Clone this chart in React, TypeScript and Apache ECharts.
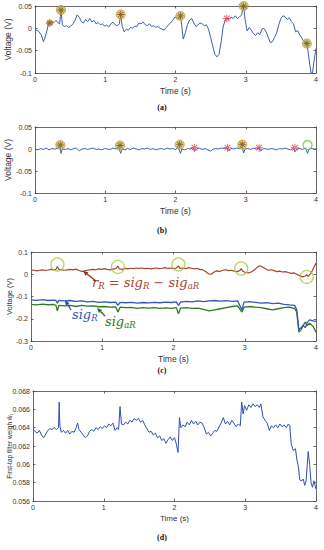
import React, { useEffect, useRef } from "react";
import * as echarts from "echarts";

// ---------------- DATA ----------------
const xTicks = [0, 1, 2, 3, 4];

// (a) raw signal [time, voltage]
const sigA: number[][] = [
  [0.00,-0.006],[0.03,-0.004],[0.06,-0.008],[0.09,-0.015],[0.12,-0.030],[0.14,-0.022],[0.17,-0.005],[0.19,0.008],
  [0.21,0.012],[0.24,0.015],[0.27,0.013],[0.30,0.018],[0.33,0.012],[0.35,0.010],[0.37,0.041],[0.39,0.008],
  [0.42,0.004],[0.45,0.006],[0.48,0.002],[0.51,0.005],[0.54,0.010],[0.57,0.018],[0.60,0.030],[0.63,0.025],
  [0.66,0.015],[0.69,0.012],[0.72,0.020],[0.75,0.015],[0.78,0.022],[0.81,0.014],[0.84,0.018],[0.87,0.010],
  [0.90,0.013],[0.93,0.008],[0.96,0.010],[0.99,0.005],[1.02,0.007],[1.05,0.003],[1.08,0.010],[1.11,0.014],
  [1.14,0.008],[1.17,0.006],[1.20,0.010],[1.22,0.031],[1.24,0.005],[1.27,-0.008],[1.30,-0.002],[1.33,-0.004],
  [1.36,0.002],[1.39,0.000],[1.42,0.005],[1.45,0.004],[1.48,0.012],[1.51,0.010],[1.54,0.014],[1.57,0.008],
  [1.60,0.006],[1.63,0.010],[1.66,0.004],[1.69,0.006],[1.72,0.002],[1.75,0.004],[1.78,0.000],[1.81,-0.002],
  [1.84,-0.004],[1.87,0.002],[1.90,0.008],[1.93,0.012],[1.96,0.018],[1.99,0.025],[2.02,0.022],[2.05,0.020],
  [2.07,0.028],[2.09,0.005],[2.11,-0.024],[2.14,-0.010],[2.17,0.008],[2.20,0.018],[2.23,0.022],[2.26,0.012],
  [2.29,0.004],[2.32,0.008],[2.35,0.012],[2.38,0.010],[2.41,0.006],[2.44,0.008],[2.47,-0.002],[2.50,-0.020],
  [2.53,-0.040],[2.56,-0.058],[2.59,-0.064],[2.62,-0.058],[2.65,-0.030],[2.68,0.005],[2.71,0.018],[2.73,0.022],
  [2.76,0.020],[2.79,0.025],[2.82,0.022],[2.85,0.028],[2.88,0.022],[2.91,0.025],[2.94,0.030],[2.97,0.050],
  [2.99,0.020],[3.02,-0.006],[3.05,0.002],[3.08,-0.004],[3.11,-0.012],[3.14,-0.016],[3.17,-0.010],[3.20,-0.014],
  [3.23,-0.002],[3.26,0.000],[3.29,-0.008],[3.32,-0.020],[3.35,-0.032],[3.38,-0.030],[3.41,-0.020],[3.44,-0.010],
  [3.47,0.008],[3.50,0.022],[3.53,0.028],[3.56,0.026],[3.59,0.020],[3.62,0.024],[3.65,0.015],[3.68,0.010],
  [3.71,-0.008],[3.74,-0.005],[3.77,-0.015],[3.80,-0.022],[3.83,-0.030],[3.87,-0.034],[3.89,-0.055],[3.91,-0.080],
  [3.93,-0.100],[3.95,-0.100],[3.97,-0.075],[4.00,-0.045],
];
const tpA: number[][] = [[0.37,0.041],[1.22,0.031],[2.07,0.028],[2.97,0.050],[3.87,-0.034]];
const tpSmallA: number[][] = [[0.21,0.012]];
const fpA: number[][] = [[2.73,0.022]];

// (b) residual signal
const sigB: number[][] = [
  [0.00,0.000],[0.04,-0.002],[0.08,0.001],[0.12,-0.001],[0.16,0.002],[0.20,-0.002],[0.24,0.001],[0.28,0.000],
  [0.32,0.001],[0.36,0.004],[0.37,-0.010],[0.39,0.000],[0.43,-0.001],[0.47,0.001],[0.51,-0.002],[0.55,0.001],
  [0.59,0.002],[0.63,-0.004],[0.67,0.000],[0.71,0.001],[0.75,-0.001],[0.79,0.001],[0.83,0.002],[0.87,-0.001],
  [0.91,0.000],[0.95,-0.002],[0.99,0.001],[1.03,0.000],[1.07,-0.001],[1.11,0.002],[1.15,0.000],[1.19,0.003],
  [1.22,-0.010],[1.24,0.000],[1.28,-0.002],[1.32,0.001],[1.36,-0.001],[1.40,0.002],[1.44,0.000],[1.48,-0.002],
  [1.52,0.001],[1.56,0.000],[1.60,0.002],[1.64,-0.001],[1.68,0.001],[1.72,-0.002],[1.76,0.000],[1.80,0.001],
  [1.84,-0.001],[1.88,0.002],[1.92,0.000],[1.96,0.001],[2.00,-0.001],[2.04,0.004],[2.07,-0.010],[2.09,0.000],
  [2.13,-0.002],[2.17,0.001],[2.21,0.000],[2.25,0.003],[2.27,-0.005],[2.30,0.000],[2.34,0.002],[2.38,-0.001],
  [2.42,0.001],[2.46,-0.002],[2.50,-0.005],[2.53,-0.001],[2.57,0.001],[2.61,0.000],[2.65,0.002],[2.69,0.001],
  [2.73,0.003],[2.76,-0.004],[2.79,0.001],[2.83,0.000],[2.87,0.002],[2.91,0.001],[2.95,0.004],[2.97,-0.009],
  [2.99,0.000],[3.03,0.001],[3.07,-0.001],[3.11,0.002],[3.15,0.000],[3.19,0.003],[3.21,-0.005],[3.24,0.000],
  [3.28,0.001],[3.32,-0.001],[3.36,0.001],[3.40,0.000],[3.44,-0.002],[3.48,0.001],[3.52,0.000],[3.56,0.002],
  [3.60,0.000],[3.64,-0.002],[3.68,0.002],[3.70,-0.006],[3.73,0.000],[3.77,0.001],[3.81,-0.001],[3.85,0.002],
  [3.88,-0.010],[3.90,0.000],[3.94,0.001],[3.98,0.000],[4.00,0.001],
];
const tpB: number[][] = [[0.36,0.009],[1.21,0.008],[2.06,0.010],[2.95,0.010]];
const fpB: number[][] = [[2.27,0.003],[2.74,0.003],[3.19,0.003],[3.70,0.003]];
const fnB: number[][] = [[3.88,0.009]];

// (c) r_R, sig_R, sig_aR
const rR: number[][] = [
  [0.00,0.020],[0.04,0.018],[0.08,0.015],[0.12,0.018],[0.16,0.020],[0.20,0.017],[0.24,0.019],[0.28,0.022],
  [0.32,0.020],[0.35,0.022],[0.37,0.035],[0.39,0.022],[0.43,0.020],[0.47,0.018],[0.51,0.020],[0.55,0.022],
  [0.59,0.020],[0.63,0.023],[0.67,0.018],[0.71,0.012],[0.75,0.015],[0.79,0.018],[0.83,0.020],[0.87,0.022],
  [0.91,0.020],[0.95,0.024],[0.99,0.022],[1.03,0.025],[1.07,0.022],[1.11,0.020],[1.15,0.023],[1.19,0.025],
  [1.22,0.036],[1.24,0.024],[1.28,0.022],[1.32,0.026],[1.36,0.024],[1.40,0.027],[1.44,0.025],[1.48,0.028],
  [1.52,0.026],[1.56,0.028],[1.60,0.025],[1.64,0.027],[1.68,0.024],[1.72,0.026],[1.76,0.028],[1.80,0.025],
  [1.84,0.027],[1.88,0.030],[1.92,0.026],[1.96,0.028],[2.00,0.025],[2.04,0.028],[2.07,0.038],[2.09,0.026],
  [2.13,0.028],[2.17,0.025],[2.21,0.030],[2.25,0.027],[2.29,0.024],[2.33,0.026],[2.37,0.022],[2.41,0.020],
  [2.45,0.012],[2.49,0.002],[2.53,0.000],[2.57,0.010],[2.61,0.015],[2.65,0.012],[2.69,0.018],[2.73,0.020],
  [2.77,0.016],[2.81,0.018],[2.85,0.014],[2.89,0.012],[2.93,0.016],[2.95,0.025],[2.97,0.015],[3.01,0.008],
  [3.05,0.006],[3.09,0.010],[3.13,0.018],[3.17,0.030],[3.21,0.038],[3.25,0.033],[3.29,0.025],[3.33,0.018],
  [3.37,0.020],[3.41,0.016],[3.45,0.012],[3.49,0.014],[3.53,0.010],[3.57,0.012],[3.61,0.008],[3.65,0.004],
  [3.69,0.006],[3.73,0.000],[3.77,-0.006],[3.81,-0.012],[3.85,-0.008],[3.87,-0.002],[3.89,-0.010],[3.93,0.005],
  [3.97,0.030],[4.00,0.050],
];
const sigR: number[][] = [
  [0,-0.115],[0.08,-0.117],[0.16,-0.114],[0.24,-0.118],[0.32,-0.116],[0.35,-0.118],[0.37,-0.13],[0.39,-0.117],
  [0.47,-0.12],[0.55,-0.118],[0.63,-0.122],[0.71,-0.12],[0.79,-0.124],[0.87,-0.122],[0.95,-0.126],[1.03,-0.124],
  [1.11,-0.127],[1.19,-0.125],[1.22,-0.14],[1.25,-0.126],[1.33,-0.128],[1.41,-0.126],[1.49,-0.13],[1.57,-0.127],
  [1.65,-0.129],[1.73,-0.126],[1.81,-0.128],[1.89,-0.125],[1.97,-0.127],[2.04,-0.124],[2.07,-0.14],[2.10,-0.125],
  [2.18,-0.122],[2.26,-0.124],[2.34,-0.12],[2.42,-0.123],[2.50,-0.12],[2.58,-0.118],[2.66,-0.121],[2.74,-0.119],
  [2.82,-0.122],[2.90,-0.12],[2.96,-0.16],[2.99,-0.125],[3.07,-0.123],[3.15,-0.126],[3.23,-0.13],[3.31,-0.128],
  [3.39,-0.132],[3.47,-0.13],[3.55,-0.135],[3.63,-0.138],[3.70,-0.14],[3.73,-0.16],[3.76,-0.25],[3.79,-0.24],
  [3.82,-0.23],[3.85,-0.24],[3.88,-0.215],[3.91,-0.205],[3.96,-0.21],[4.0,-0.212],
];
const sigAR: number[][] = [
  [0,-0.135],[0.08,-0.138],[0.16,-0.134],[0.24,-0.137],[0.32,-0.136],[0.35,-0.14],[0.37,-0.165],[0.39,-0.14],
  [0.47,-0.142],[0.55,-0.14],[0.63,-0.145],[0.71,-0.14],[0.79,-0.143],[0.87,-0.142],[0.95,-0.146],[1.03,-0.145],
  [1.11,-0.148],[1.19,-0.147],[1.22,-0.17],[1.25,-0.148],[1.33,-0.15],[1.41,-0.149],[1.49,-0.153],[1.57,-0.15],
  [1.65,-0.152],[1.73,-0.15],[1.81,-0.153],[1.89,-0.151],[1.97,-0.153],[2.04,-0.15],[2.07,-0.178],[2.10,-0.152],
  [2.18,-0.15],[2.26,-0.153],[2.34,-0.152],[2.42,-0.158],[2.50,-0.165],[2.58,-0.16],[2.66,-0.155],[2.74,-0.15],
  [2.82,-0.145],[2.90,-0.142],[2.96,-0.17],[2.99,-0.148],[3.07,-0.145],[3.15,-0.148],[3.23,-0.15],[3.31,-0.155],
  [3.39,-0.16],[3.47,-0.155],[3.55,-0.15],[3.63,-0.148],[3.70,-0.155],[3.73,-0.17],[3.76,-0.26],[3.79,-0.25],
  [3.82,-0.23],[3.85,-0.215],[3.88,-0.23],[3.91,-0.22],[3.96,-0.235],[4.0,-0.26],
];
const circlesC: number[][] = [[0.37,0.044],[1.22,0.033],[2.07,0.044],[2.95,0.026],[3.87,-0.012]];

// (d) first-tap filter weight
const w1: number[][] = [
  [0,0.0638],[0.03,0.0636],[0.06,0.0634],[0.09,0.0637],[0.12,0.0632],[0.15,0.0629],[0.18,0.0633],[0.21,0.0637],
  [0.24,0.0639],[0.27,0.0638],[0.30,0.0640],[0.33,0.0638],[0.36,0.0640],[0.37,0.0668],[0.38,0.0642],[0.40,0.0635],
  [0.43,0.0637],[0.46,0.0634],[0.49,0.0637],[0.52,0.0633],[0.55,0.0636],[0.58,0.0635],[0.61,0.0640],[0.63,0.0645],
  [0.65,0.0638],[0.68,0.0635],[0.71,0.0632],[0.74,0.0629],[0.77,0.0631],[0.80,0.0636],[0.83,0.0638],[0.86,0.0636],
  [0.89,0.0640],[0.92,0.0638],[0.95,0.0641],[0.98,0.0639],[1.01,0.0642],[1.04,0.0640],[1.07,0.0644],[1.10,0.0642],
  [1.13,0.0645],[1.16,0.0637],[1.19,0.0640],[1.21,0.0638],[1.23,0.0663],[1.25,0.0644],[1.28,0.0643],[1.31,0.0646],
  [1.34,0.0644],[1.37,0.0648],[1.40,0.0646],[1.43,0.0650],[1.46,0.0648],[1.49,0.0650],[1.52,0.0646],[1.55,0.0648],
  [1.58,0.0643],[1.61,0.0639],[1.64,0.0635],[1.67,0.0636],[1.70,0.0632],[1.73,0.0634],[1.76,0.0629],[1.79,0.0631],
  [1.82,0.0626],[1.85,0.0628],[1.88,0.0623],[1.91,0.0627],[1.94,0.0630],[1.97,0.0626],[2.00,0.0629],[2.02,0.0624],
  [2.05,0.0613],[2.07,0.0651],[2.09,0.0640],[2.12,0.0643],[2.15,0.0641],[2.18,0.0646],[2.21,0.0643],[2.24,0.0648],
  [2.27,0.0644],[2.30,0.0647],[2.33,0.0643],[2.36,0.0646],[2.39,0.0645],[2.42,0.0640],[2.45,0.0633],[2.48,0.0635],
  [2.51,0.0631],[2.54,0.0634],[2.57,0.0637],[2.60,0.0636],[2.63,0.0641],[2.66,0.0645],[2.69,0.0651],[2.72,0.0644],
  [2.75,0.0647],[2.78,0.0643],[2.81,0.0648],[2.84,0.0645],[2.87,0.0641],[2.90,0.0644],[2.93,0.0642],[2.95,0.0668],
  [2.97,0.0655],[2.99,0.0664],[3.02,0.0659],[3.05,0.0665],[3.08,0.0662],[3.11,0.0666],[3.14,0.0663],[3.17,0.0665],
  [3.20,0.0662],[3.22,0.0666],[3.25,0.0652],[3.28,0.0648],[3.31,0.0645],[3.34,0.0637],[3.37,0.0642],[3.40,0.0640],
  [3.43,0.0643],[3.46,0.0640],[3.49,0.0644],[3.52,0.0641],[3.55,0.0643],[3.58,0.0640],[3.61,0.0644],[3.63,0.0642],
  [3.65,0.0622],[3.68,0.0615],[3.71,0.0617],[3.73,0.0605],[3.75,0.0598],[3.77,0.0583],[3.80,0.0582],[3.82,0.0584],
  [3.84,0.0577],[3.86,0.0582],[3.89,0.0614],[3.91,0.0600],[3.93,0.0580],[3.95,0.0575],[3.97,0.0582],[4.00,0.0573],
];

// ---------------- STYLE ----------------
const STAR =
  "path://M-0.12,-1L0.12,-1L0.12,1L-0.12,1Z M-1,-0.12L1,-0.12L1,0.12L-1,0.12Z M-0.79,-0.62L0.62,0.79L0.79,0.62L-0.62,-0.79Z M-0.79,0.62L0.62,-0.79L0.79,-0.62L-0.62,0.79Z";
const FONT = "Liberation Sans, Arial, sans-serif";
const AX = "#444";

type Panel = {
  grid: { left: number; right: number; top: number; height: number };
  ymin: number; ymax: number; yint: number; dec: number;
  yname: string; ynameGap: number; ynameSize: number;
};

const panels: Panel[] = [
  { grid: { left: 35, right: 8, top: 6, height: 67 }, ymin: -0.1, ymax: 0.05, yint: 0.05, dec: 3, yname: "Voltage (V)", ynameGap: 23, ynameSize: 8.5 },
  { grid: { left: 35, right: 8, top: 127, height: 66 }, ymin: -0.1, ymax: 0.05, yint: 0.05, dec: 3, yname: "Voltage (V)", ynameGap: 23, ynameSize: 8.5 },
  { grid: { left: 31, right: 8, top: 252, height: 89 }, ymin: -0.3, ymax: 0.1, yint: 0.1, dec: 3, yname: "Voltage (V)", ynameGap: 18, ynameSize: 7.5 },
  { grid: { left: 33, right: 8, top: 391, height: 110 }, ymin: 0.056, ymax: 0.068, yint: 0.002, dec: 4, yname: "First-tap filter weigh ŵ₁", ynameGap: 20, ynameSize: 6.5 },
];

function arrow(x1: number, y1: number, x2: number, y2: number, color: string) {
  const dx = x2 - x1, dy = y2 - y1;
  const L = Math.sqrt(dx * dx + dy * dy);
  const ux = dx / L, uy = dy / L;
  const hl = 5, hw = 2.2;
  const bx = x2 - ux * hl, by = y2 - uy * hl;
  return [
    { type: "line", shape: { x1, y1, x2: bx, y2: by }, style: { stroke: color, lineWidth: 1.3 }, z: 100 },
    {
      type: "polygon",
      shape: { points: [[x2, y2], [bx - uy * hw, by + ux * hw], [bx + uy * hw, by - ux * hw]] },
      style: { fill: color }, z: 100,
    },
  ];
}

export default function App() {
  const ref = useRef<HTMLDivElement>(null);
  useEffect(() => {
    document.body.style.margin = "0";
    if (!ref.current) return;
    const chart = echarts.init(ref.current, null, { renderer: "svg" });

    const grids: any[] = [];
    const xAxes: any[] = [];
    const yAxes: any[] = [];
    panels.forEach((p, i) => {
      grids.push({ ...p.grid, containLabel: false, outerBoundsMode: "none" });
      const line = { show: true, onZero: false, lineStyle: { color: AX, width: 0.8 } };
      const tick = { show: true, inside: true, length: 2.5, lineStyle: { color: AX, width: 0.8 } };
      xAxes.push({
        gridIndex: i, type: "value", min: xTicks[0], max: xTicks[xTicks.length - 1], interval: 1, position: "bottom",
        axisLine: line, axisTick: tick, splitLine: { show: false },
        axisLabel: { fontSize: 7, color: "#333", margin: 3, fontFamily: FONT },
        name: "Time (s)", nameLocation: "middle", nameGap: 13, nameMoveOverlap: false,
        nameTextStyle: { fontSize: i === 3 ? 8 : 8.5, color: "#333", fontFamily: FONT },
      });
      xAxes.push({
        gridIndex: i, type: "value", min: 0, max: 4, interval: 1, position: "top",
        axisLine: line, axisTick: tick, splitLine: { show: false }, axisLabel: { show: false },
      });
      yAxes.push({
        gridIndex: i, type: "value", min: p.ymin, max: p.ymax, interval: p.yint, position: "left",
        axisLine: line, axisTick: tick, splitLine: { show: false },
        axisLabel: {
          fontSize: 7, color: "#333", margin: 3, fontFamily: FONT,
          formatter: (v: number) => String(+v.toFixed(p.dec)),
        },
        name: p.yname, nameLocation: "middle", nameGap: p.ynameGap, nameRotate: 90, nameMoveOverlap: false,
        nameTextStyle: { fontSize: p.ynameSize, color: "#333", fontFamily: FONT },
      });
      yAxes.push({
        gridIndex: i, type: "value", min: p.ymin, max: p.ymax, interval: p.yint, position: "right",
        axisLine: line, axisTick: tick, splitLine: { show: false }, axisLabel: { show: false },
      });
    });

    const lineS = (data: number[][], gi: number, color: string, width = 1, z = 2) => ({
      type: "line", data, xAxisIndex: gi * 2, yAxisIndex: gi * 2, showSymbol: false, symbol: "none",
      lineStyle: { color, width }, z, silent: true,
    });
    const tpCircle = (data: number[][], gi: number, size: number) => ({
      type: "scatter", data, xAxisIndex: gi * 2, yAxisIndex: gi * 2, symbol: "circle", symbolSize: size,
      itemStyle: { color: "rgba(170,200,80,0.85)", borderColor: "#d98a2b", borderWidth: 1 }, z: 5, silent: true,
    });
    const star = (data: number[][], gi: number, size: number, color: string) => ({
      type: "scatter", data, xAxisIndex: gi * 2, yAxisIndex: gi * 2, symbol: STAR, symbolSize: size,
      itemStyle: { color }, z: 6, silent: true,
    });
    const ring = (data: number[][], gi: number, size: number, color: string) => ({
      type: "scatter", data, xAxisIndex: gi * 2, yAxisIndex: gi * 2, symbol: "circle", symbolSize: size,
      itemStyle: { color: "rgba(0,0,0,0)", borderColor: color, borderWidth: 1.3 }, z: 5, silent: true,
    });

    const series: any[] = [
      lineS(sigA, 0, "#3f5fae"),
      tpCircle(tpA, 0, 9),
      star(tpA, 0, 7, "#8a3a12"),
      tpCircle(tpSmallA, 0, 6),
      star(tpSmallA, 0, 7, "#8a3a12"),
      star(fpA, 0, 8, "#e83a4a"),

      lineS(sigB, 1, "#3f5fae"),
      tpCircle(tpB, 1, 9),
      star(tpB, 1, 7, "#7a3a12"),
      star(fpB, 1, 8, "#e83a4a"),
      ring(fnB, 1, 9, "#7cc23a"),

      lineS(rR, 2, "#a8452e", 1.2),
      lineS(sigR, 2, "#3557b8", 1.3, 3),
      lineS(sigAR, 2, "#2f7a22", 1.3, 2),
      ring(circlesC, 2, 13, "#a6c93e"),

      lineS(w1, 3, "#2f4fb4", 1),
    ];

    const caption = (t: string, y: number) => ({
      type: "text", x: 162, y,
      style: { text: t, fill: "#111", font: "bold 8px 'Liberation Serif', serif", align: "center", verticalAlign: "middle" },
    });
    const mathRich = (c: string) => ({
      i: { fontSize: 13, fontStyle: "italic", fontFamily: "DejaVu Serif, serif", fill: c, lineHeight: 16, verticalAlign: "middle" },
      s: { fontSize: 8.5, fontStyle: "italic", fontFamily: "DejaVu Serif, serif", fill: c, lineHeight: 10, verticalAlign: "bottom" },
    });

    const graphic: any[] = [
      caption("(a)", 107),
      caption("(b)", 230),
      caption("(c)", 370),
      caption("(d)", 537),
      {
        type: "text", x: 92, y: 274, z: 100,
        style: { text: "{i|r}{s|R}{i| = sig}{s|R}{i| − sig}{s|aR}", rich: mathRich("#a8452e"), verticalAlign: "top" },
      },
      {
        type: "text", x: 72, y: 306, z: 100,
        style: { text: "{i|sig}{s|R}", rich: mathRich("#3557b8"), verticalAlign: "top" },
      },
      {
        type: "text", x: 105, y: 313, z: 100,
        style: { text: "{i|sig}{s|aR}", rich: mathRich("#2f7a22"), verticalAlign: "top" },
      },
      ...arrow(96, 281, 83, 271, "#8b2e1c"),
      ...arrow(71, 310, 65, 300, "#2e4fa0"),
      ...arrow(105, 316, 97, 308, "#2d6e1f"),
    ];

    chart.setOption({
      animation: false,
      backgroundColor: "#fff",
      grid: grids,
      xAxis: xAxes,
      yAxis: yAxes,
      series,
      graphic,
    });
    return () => chart.dispose();
  }, []);
  return <div ref={ref} style={{ width: 324, height: 550 }} />;
}
